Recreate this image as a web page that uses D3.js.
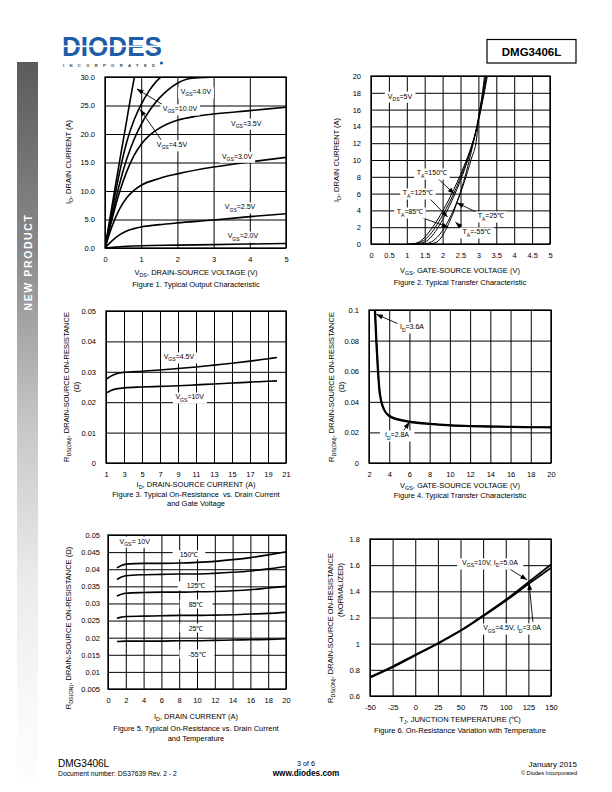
<!DOCTYPE html>
<html><head><meta charset="utf-8">
<script src="https://cdn.jsdelivr.net/npm/d3@7/dist/d3.min.js"></script>
<style>
html,body{margin:0;padding:0;background:#fff}
svg{display:block}
text{white-space:pre}
</style></head>
<body><svg id="page" width="612" height="792" xmlns="http://www.w3.org/2000/svg"></svg>
<script>
// ================= DATA =================
// Figure 1 - Typical Output Characteristic (VDS [V], ID [A])
const fig1XTicks = [0,1,2,3,4,5];
const fig1XLabels = ["0","1","2","3","4","5"];
const fig1YTicks = [0,5,10,15,20,25,30];
const fig1YLabels = ["0.0","5.0","10.0","15.0","20.0","25.0","30.0"];
const fig1Vgs10  = [[0,0],[0.2,7.6],[0.4,15.1],[0.6,22.4],[0.8,29.6],[0.86,31.5]];
const fig1Vgs45  = [[0,0],[0.2,6.8],[0.4,13.2],[0.6,18.6],[0.8,22.4],[1.0,25.2],[1.2,27.4],[1.4,29.1],[1.6,30.3]];
const fig1Vgs40  = [[0,0],[0.2,5.8],[0.4,11.2],[0.6,15.6],[0.8,19.0],[1.0,21.7],[1.25,24.3],[1.5,26.3],[1.75,27.8],[2.0,28.9],[2.25,29.6],[2.5,29.85],[3.0,30.0],[3.3,30.4]];
const fig1Vgs35  = [[0,0],[0.2,5.2],[0.4,9.8],[0.6,13.4],[0.8,16.2],[1.0,18.2],[1.25,19.9],[1.5,21.0],[2.0,22.4],[2.5,23.1],[3.0,23.5],[4.0,24.1],[5.0,24.7]];
const fig1Vgs30  = [[0,0],[0.2,3.9],[0.4,6.8],[0.6,8.8],[0.8,10.1],[1.0,11.0],[1.5,12.2],[2.0,13.0],[3.0,14.2],[4.0,15.1],[5.0,15.9]];
const fig1Vgs25  = [[0,0],[0.2,1.3],[0.4,2.3],[0.6,3.0],[0.8,3.4],[1.0,3.7],[1.5,4.1],[2.0,4.4],[3.0,4.9],[4.0,5.5],[5.0,6.0]];
const fig1Vgs20  = [[0,0],[0.5,0.25],[1,0.4],[2,0.5],[3,0.6],[4,0.7],[5,0.8]];

// Figure 2 - Typical Transfer Characteristic (VGS [V], ID [A])
const fig2XTicks = [0,0.5,1,1.5,2,2.5,3,3.5,4,4.5,5];
const fig2XLabels = ["0","0.5","1","1.5","2","2.5","3","3.5","4","4.5","5"];
const fig2YTicks = [0,2,4,6,8,10,12,14,16,18,20];
const fig2YLabels = ["0","2","4","6","8","10","12","14","16","18","20"];
const fig2T150 = [[1.0,0],[1.2,0.05],[1.4,0.4],[1.6,1.3],[1.8,2.5],[2.0,3.9],[2.2,5.5],[2.4,7.3],[2.6,9.3],[2.8,11.6],[3.0,14.6],[3.1,16.6],[3.2,18.8],[3.26,20.3]];
const fig2T125 = [[1.1,0],[1.3,0.1],[1.5,0.5],[1.7,1.4],[1.9,2.7],[2.1,4.2],[2.3,5.9],[2.5,7.9],[2.7,10.2],[2.9,12.8],[3.0,14.7],[3.1,16.9],[3.2,19.3],[3.24,20.3]];
const fig2T85  = [[1.2,0],[1.4,0.1],[1.6,0.5],[1.8,1.5],[2.0,2.9],[2.2,4.6],[2.4,6.5],[2.6,8.7],[2.8,11.3],[3.0,14.8],[3.1,17.1],[3.2,19.6],[3.22,20.3]];
const fig2T25  = [[1.4,0],[1.6,0.1],[1.8,0.6],[2.0,1.6],[2.2,3.1],[2.4,5.0],[2.6,7.3],[2.8,10.1],[2.95,12.6],[3.0,14.9],[3.1,17.4],[3.2,20.1],[3.21,20.4]];
const fig2Tm55 = [[1.6,0],[1.8,0.15],[1.95,0.7],[2.1,1.8],[2.25,3.2],[2.4,4.9],[2.55,6.9],[2.7,9.2],[2.85,11.9],[3.0,15.0],[3.1,17.6],[3.18,20.4]];

// Figure 3 - On-Resistance vs Drain Current and Gate Voltage (ID [A], RDS(ON) [ohm])
const fig3XTicks = [1,3,5,7,9,11,13,15,17,19,21];
const fig3XLabels = ["1","3","5","7","9","11","13","15","17","19","21"];
const fig3YTicks = [0,0.01,0.02,0.03,0.04,0.05];
const fig3YLabels = ["0","0.01","0.02","0.03","0.04","0.05"];
const fig3Vgs45 = [[1,0.0275],[1.5,0.0285],[2,0.0292],[3,0.0298],[5,0.0302],[7,0.0306],[9,0.0311],[11,0.0316],[13,0.0322],[15,0.0328],[17,0.0335],[19,0.0343],[20,0.0347]];
const fig3Vgs10 = [[1,0.0230],[1.5,0.0238],[2,0.0243],[3,0.0247],[5,0.0250],[7,0.0252],[9,0.0254],[11,0.0257],[13,0.0260],[15,0.0263],[17,0.0266],[19,0.0269],[20,0.0270]];

// Figure 4 - On-Resistance vs Gate-Source Voltage (VGS [V], RDS(ON) [ohm])
const fig4XTicks = [2,4,6,8,10,12,14,16,18,20];
const fig4XLabels = ["2","4","6","8","10","12","14","16","18","20"];
const fig4YTicks = [0,0.02,0.04,0.06,0.08,0.1];
const fig4YLabels = ["0","0.02","0.04","0.06","0.08","0.1"];
const fig4Id36 = [[2.55,0.102],[2.7,0.080],[2.85,0.062],[3.0,0.048],[3.2,0.040],[3.5,0.0345],[4,0.031],[5,0.0285],[6,0.0272],[8,0.0257],[10,0.0248],[12,0.0243],[14,0.0240],[16,0.0237],[18,0.0235],[20,0.0234]];
const fig4Id28 = [[2.6,0.102],[2.75,0.080],[2.9,0.062],[3.05,0.048],[3.25,0.040],[3.55,0.0342],[4,0.0305],[5,0.0280],[6,0.0268],[8,0.0254],[10,0.0245],[12,0.0240],[14,0.0237],[16,0.0235],[18,0.0233],[20,0.0232]];

// Figure 5 - On-Resistance vs Drain Current and Temperature (ID [A], RDS(ON) [ohm])
const fig5XTicks = [0,2,4,6,8,10,12,14,16,18,20];
const fig5XLabels = ["0","2","4","6","8","10","12","14","16","18","20"];
const fig5YTicks = [0.005,0.01,0.015,0.02,0.025,0.03,0.035,0.04,0.045,0.05];
const fig5YLabels = ["0.005","0.01","0.015","0.02","0.025","0.03","0.035","0.04","0.045","0.05"];
const fig5T150 = [[1,0.0404],[1.5,0.0411],[2,0.0415],[4,0.0417],[6,0.0417],[8,0.0418],[10,0.0420],[12,0.0423],[14,0.0428],[16,0.0434],[18,0.0442],[20,0.0451]];
const fig5T125 = [[1,0.0370],[1.5,0.0377],[2,0.0381],[4,0.0384],[6,0.0385],[8,0.0386],[10,0.0386],[12,0.0388],[14,0.0391],[16,0.0395],[18,0.0401],[20,0.0408]];
const fig5T85  = [[1,0.0322],[1.5,0.0327],[2,0.0330],[4,0.0332],[6,0.0333],[8,0.0333],[10,0.0334],[12,0.0335],[14,0.0337],[16,0.0340],[18,0.0345],[20,0.0350]];
const fig5T25  = [[1,0.0257],[1.5,0.0260],[2,0.0262],[4,0.0263],[6,0.0264],[8,0.0265],[10,0.0265],[12,0.0266],[14,0.0267],[16,0.0269],[18,0.0271],[20,0.0274]];
const fig5Tm55 = [[1,0.0189],[2,0.0190],[4,0.0190],[6,0.0190],[8,0.0191],[10,0.0191],[12,0.0192],[14,0.0193],[16,0.0194],[18,0.0195],[20,0.0197]];

// Figure 6 - On-Resistance Variation with Temperature (TJ [C], normalized RDS(ON))
const fig6XTicks = [-50,-25,0,25,50,75,100,125,150];
const fig6XLabels = ["-50","-25","0","25","50","75","100","125","150"];
const fig6YTicks = [0.6,0.8,1.0,1.2,1.4,1.6,1.8];
const fig6YLabels = ["0.6","0.8","1","1.2","1.4","1.6","1.8"];
const fig6Vgs10 = [[-50,0.745],[-25,0.825],[0,0.915],[25,1.003],[50,1.100],[75,1.215],[100,1.335],[125,1.470],[150,1.605]];
const fig6Vgs45 = [[-50,0.740],[-25,0.820],[0,0.910],[25,1.000],[50,1.098],[75,1.210],[100,1.328],[125,1.455],[150,1.580]];

// ================= DRAWING =================
const FONT = "'Liberation Sans', Arial, Helvetica, sans-serif";
const svg = d3.select("#page");
const defs = svg.append("defs");
defs.append("marker").attr("id","arrow").attr("viewBox","0 0 8 6").attr("refX",8).attr("refY",3)
  .attr("markerWidth",7).attr("markerHeight",5).attr("markerUnits","userSpaceOnUse").attr("orient","auto")
  .append("path").attr("d","M0,0 L8,3 L0,6 Z").attr("fill","#000");
const grad = defs.append("linearGradient").attr("id","side").attr("x1",0).attr("y1",0).attr("x2",0).attr("y2",1);
[[0,"#5b5b5b"],[0.25,"#888888"],[0.5,"#c6c6c6"],[0.72,"#ebebeb"],[0.9,"#f9f9f9"],[1,"#fdfdfd"]]
  .forEach(([o,c])=>grad.append("stop").attr("offset",o).attr("stop-color",c));

function rich(t, str, fs) {
  const parts = str.split(/(_\{[^}]*\})/).filter(s => s.length);
  let sub = false;
  parts.forEach(p => {
    if (p.startsWith("_{")) {
      t.append("tspan").attr("font-size", fs*0.72).attr("dy", fs*0.3).text(p.slice(2,-1));
      sub = true;
    } else {
      const ts = t.append("tspan").text(p);
      if (sub) { ts.attr("dy", -fs*0.3); sub = false; }
    }
  });
}
function text(g, x, y, str, o = {}) {
  const fs = o.fs || 7.5;
  const t = g.append("text").attr("x", x).attr("y", y)
    .attr("text-anchor", o.anchor || "middle").attr("font-family", FONT)
    .attr("font-size", fs).attr("fill", o.fill || "#000");
  if (o.weight) t.attr("font-weight", o.weight);
  if (o.ls) t.attr("letter-spacing", o.ls);
  rich(t, str, fs);
  return t;
}
function vtext(cx, cy, str, fs = 7.5) {
  const t = svg.append("text").attr("transform", `translate(${cx},${cy}) rotate(-90)`)
    .attr("y", fs*0.35).attr("text-anchor","middle").attr("font-family", FONT)
    .attr("font-size", fs).attr("fill","#000");
  rich(t, str, fs);
}

let clipId = 0;
function drawChart(c) {
  const g = svg.append("g");
  const x = d3.scaleLinear().domain(c.xDom).range([c.left, c.right]);
  const y = d3.scaleLinear().domain(c.yDom).range([c.bottom, c.top]);
  const w = c.right - c.left, h = c.bottom - c.top;

  const gx = g.append("g").attr("transform", `translate(0,${c.bottom})`)
    .call(d3.axisBottom(x).tickValues(c.xTicks).tickSize(-h).tickFormat(""));
  gx.select(".domain").remove();
  gx.selectAll(".tick line").attr("stroke","#000").attr("stroke-width",1);
  const gy = g.append("g").attr("transform", `translate(${c.left},0)`)
    .call(d3.axisLeft(y).tickValues(c.yTicks).tickSize(-w).tickFormat(""));
  gy.select(".domain").remove();
  gy.selectAll(".tick line").attr("stroke","#000").attr("stroke-width",1);

  const lx = g.append("g").attr("transform", `translate(0,${c.bottom})`)
    .call(d3.axisBottom(x).tickValues(c.xTicks).tickSize(0).tickPadding(c.xPad || 9).tickFormat((d,i)=>c.xLabels[i]));
  lx.select(".domain").remove();
  lx.attr("font-family", FONT).attr("font-size", 7.5);
  lx.selectAll("text").attr("fill","#000");
  const ly = g.append("g").attr("transform", `translate(${c.left},0)`)
    .call(d3.axisLeft(y).tickValues(c.yTicks).tickSize(0).tickPadding(c.yPad || 10).tickFormat((d,i)=>c.yLabels[i]));
  ly.select(".domain").remove();
  ly.attr("font-family", FONT).attr("font-size", 7.5);
  ly.selectAll("text").attr("fill","#000");

  const id = "clip" + (clipId++);
  defs.append("clipPath").attr("id", id).append("rect")
    .attr("x", c.left).attr("y", c.top).attr("width", w).attr("height", h);
  const line = d3.line().x(d => x(d[0])).y(d => y(d[1])).curve(d3.curveMonotoneX);
  const cg = g.append("g").attr("clip-path", `url(#${id})`);
  c.series.forEach(s => {
    cg.append("path").datum(s).attr("d", line).attr("fill","none")
      .attr("stroke","#000").attr("stroke-width", c.lw || 1.5).attr("stroke-linejoin","round");
  });

  g.append("rect").attr("x", c.left).attr("y", c.top).attr("width", w).attr("height", h)
    .attr("fill","none").attr("stroke","#000").attr("stroke-width",1.3);

  (c.arrows || []).forEach(a => {
    g.append("line").attr("x1", x(a[0])).attr("y1", y(a[1])).attr("x2", x(a[2])).attr("y2", y(a[3]))
      .attr("stroke","#000").attr("stroke-width",0.9).attr("marker-end","url(#arrow)");
  });
  (c.labels || []).forEach(l => {
    const fs = 7;
    const t = text(g, x(l.x), y(l.y) + fs*0.35, l.t, {fs});
    const b = t.node().getBBox();
    const px = l.px ?? 2.5, py = 1;
    g.insert("rect", () => t.node()).attr("x", b.x-px).attr("y", b.y-py)
      .attr("width", b.width+2*px).attr("height", b.height+2*py).attr("fill","#fff");
  });
  return {x, y};
}

// ---------- page furniture ----------
svg.append("rect").attr("x",17).attr("y",62).attr("width",21).attr("height",720).attr("fill","url(#side)");
svg.append("text").attr("transform","translate(31.5,262) rotate(-90)").attr("text-anchor","middle")
  .attr("font-family",FONT).attr("font-weight","bold").attr("font-size",10.5).attr("letter-spacing",1.6)
  .attr("fill","#fff").text("NEW PRODUCT");

// logo
svg.append("text").attr("x",62).attr("y",56).attr("font-family",FONT).attr("font-weight","bold")
  .attr("font-size",28).attr("textLength",100).attr("lengthAdjust","spacingAndGlyphs")
  .attr("fill","#1d5ca8").text("DIODES");
svg.append("rect").attr("x",60).attr("y",45.5).attr("width",106).attr("height",1.6).attr("fill","#fff");
svg.append("text").attr("x",63).attr("y",66.5).attr("font-family",FONT).attr("font-weight","bold")
  .attr("font-size",4.2).attr("textLength",92).attr("fill","#444").text("INCORPORATED");
svg.append("circle").attr("cx",161.5).attr("cy",63).attr("r",1.6).attr("fill","#1d5ca8");

// part number box
svg.append("rect").attr("x",487).attr("y",39.5).attr("width",89).attr("height",23.5)
  .attr("fill","none").attr("stroke","#000").attr("stroke-width",1.2);
text(svg, 531.5, 55.5, "DMG3406L", {fs:11.5, weight:"bold"});

// footer
text(svg, 58, 767, "DMG3406L", {fs:10, anchor:"start"});
text(svg, 58, 776, "Document number: DS37639 Rev. 2 - 2", {fs:6.8, anchor:"start"});
text(svg, 306, 766, "3 of 6", {fs:7.2});
text(svg, 306, 776, "www.diodes.com", {fs:8.2, weight:"bold"});
text(svg, 577, 767, "January 2015", {fs:8, anchor:"end"});
text(svg, 577, 774.5, "© Diodes Incorporated", {fs:5.6, anchor:"end"});

// ---------- Figure 1 ----------
drawChart({
  left:105, right:286, top:77, bottom:248, xDom:[0,5], yDom:[0,30],
  xTicks:fig1XTicks, xLabels:fig1XLabels, yTicks:fig1YTicks, yLabels:fig1YLabels,
  series:[fig1Vgs10, fig1Vgs45, fig1Vgs40, fig1Vgs35, fig1Vgs30, fig1Vgs25, fig1Vgs20], lw:1.6,
  arrows:[[1.58,25.2,0.88,27.9],[1.55,19.0,0.97,24.3]],
  labels:[
    {x:2.51,y:27.4,t:"V_{GS}=4.0V"},{x:2.07,y:24.4,t:"V_{GS}=10.0V"},{x:3.9,y:21.9,t:"V_{GS}=3.5V"},
    {x:1.85,y:18.1,t:"V_{GS}=4.5V"},{x:3.65,y:16.1,t:"V_{GS}=3.0V"},{x:3.73,y:7.2,t:"V_{GS}=2.5V"},
    {x:3.81,y:2.1,t:"V_{GS}=2.0V"}]
});
text(svg, 196, 275, "V_{DS}, DRAIN-SOURCE VOLTAGE (V)");
text(svg, 196, 287, "Figure 1. Typical Output Characteristic");
vtext(68, 162, "I_{D}, DRAIN CURRENT (A)");

// ---------- Figure 2 ----------
drawChart({
  left:371, right:550, top:76, bottom:244, xDom:[0,5], yDom:[0,20],
  xTicks:fig2XTicks, xLabels:fig2XLabels, yTicks:fig2YTicks, yLabels:fig2YLabels,
  series:[fig2T150, fig2T125, fig2T85, fig2T25, fig2Tm55], lw:1.0,
  arrows:[[1.84,7.9,2.33,5.95],[1.62,5.5,2.14,3.2],[1.38,3.2,2.16,2.0],[2.99,3.7,2.4,4.9],[2.57,1.8,2.36,2.6]],
  labels:[
    {x:0.81,y:17.6,t:"V_{DS}=5V",px:3},{x:1.70,y:8.45,t:"T_{A}=150℃"},{x:1.31,y:6.07,t:"T_{A}=125℃"},
    {x:1.09,y:3.81,t:"T_{A}=85℃"},{x:3.35,y:3.33,t:"T_{A}=25℃"},{x:2.96,y:1.43,t:"T_{A}=-55℃"}]
});
text(svg, 460, 273, "V_{GS}, GATE-SOURCE VOLTAGE (V)");
text(svg, 460, 285, "Figure 2. Typical Transfer Characteristic");
vtext(336, 160, "I_{D}, DRAIN CURRENT (A)");

// ---------- Figure 3 ----------
drawChart({
  left:106, right:286, top:311, bottom:463, xDom:[1,21], yDom:[0,0.05],
  xTicks:fig3XTicks, xLabels:fig3XLabels, yTicks:fig3YTicks, yLabels:fig3YLabels,
  series:[fig3Vgs45, fig3Vgs10], lw:1.6,
  labels:[{x:9.1,y:0.0349,t:"V_{GS}=4.5V"},{x:10.3,y:0.0217,t:"V_{GS}=10V"}]
});
text(svg, 196, 487, "I_{D}, DRAIN-SOURCE CURRENT (A)");
text(svg, 196, 497, "Figure 3. Typical On-Resistance  vs. Drain Current");
text(svg, 196, 506, "and Gate Voltage");
vtext(66, 387, "R_{DS(ON)}, DRAIN-SOURCE ON-RESISTANCE");
vtext(76, 387, "(Ω)");

// ---------- Figure 4 ----------
drawChart({
  left:369, right:551, top:310, bottom:463, xDom:[2,20], yDom:[0,0.1],
  xTicks:fig4XTicks, xLabels:fig4XLabels, yTicks:fig4YTicks, yLabels:fig4YLabels,
  series:[fig4Id36, fig4Id28], lw:1.8,
  arrows:[[5.05,0.0905,2.72,0.0972],[5.4,0.0208,6.0,0.0268]],
  labels:[{x:6.25,y:0.0889,t:"I_{D}=3.6A"},{x:4.77,y:0.0183,t:"I_{D}=2.8A",px:5}]
});
text(svg, 460, 488, "V_{GS}, GATE-SOURCE VOLTAGE (V)");
text(svg, 460, 498, "Figure 4. Typical Transfer Characteristic");
vtext(331, 387, "R_{DS(ON)}, DRAIN-SOURCE ON-RESISTANCE");
vtext(341, 387, "(Ω)");

// ---------- Figure 5 ----------
drawChart({
  left:108, right:286, top:535, bottom:689, xDom:[0,20], yDom:[0.005,0.05],
  xTicks:fig5XTicks, xLabels:fig5XLabels, yTicks:fig5YTicks, yLabels:fig5YLabels,
  series:[fig5T150, fig5T125, fig5T85, fig5T25, fig5Tm55], lw:1.6, yPad:8,
  labels:[{x:3.0,y:0.0482,t:"V_{GS}= 10V",px:4},{x:9.1,y:0.0442,t:"150℃",px:7},{x:9.9,y:0.0351,t:"125℃",px:9},
    {x:9.9,y:0.0298,t:"85℃",px:9},{x:9.9,y:0.0228,t:"25℃",px:9},{x:10,y:0.0152,t:"-55℃",px:9}]
});
text(svg, 196, 719, "I_{D}, DRAIN CURRENT (A)");
text(svg, 196, 731, "Figure 5. Typical On-Resistance vs. Drain Current");
text(svg, 196, 741, "and Temperature");
vtext(68, 628, "R_{DS(ON)}, DRAIN-SOURCE ON-RESISTANCE (Ω)");

// ---------- Figure 6 ----------
drawChart({
  left:370, right:551, top:539, bottom:696, xDom:[-50,150], yDom:[0.6,1.8],
  xTicks:fig6XTicks, xLabels:fig6XLabels, yTicks:fig6YTicks, yLabels:fig6YLabels,
  series:[fig6Vgs10, fig6Vgs45], lw:1.8,
  arrows:[[102.5,1.578,123.5,1.488],[130,1.166,125.8,1.462]],
  labels:[{x:82.6,y:1.617,t:"V_{GS}=10V, I_{D}=5.0A",px:5},{x:107,y:1.12,t:"V_{GS}=4.5V, I_{D}=3.0A",px:5}]
});
text(svg, 460, 722, "T_{J}, JUNCTION TEMPERATURE (℃)");
text(svg, 460, 733, "Figure 6. On-Resistance Variation with Temperature");
vtext(330, 628, "R_{DS(ON)}, DRAIN-SOURCE ON-RESISTANCE");
vtext(340, 590, "(NORMALIZED)");
</script>
</body></html>
